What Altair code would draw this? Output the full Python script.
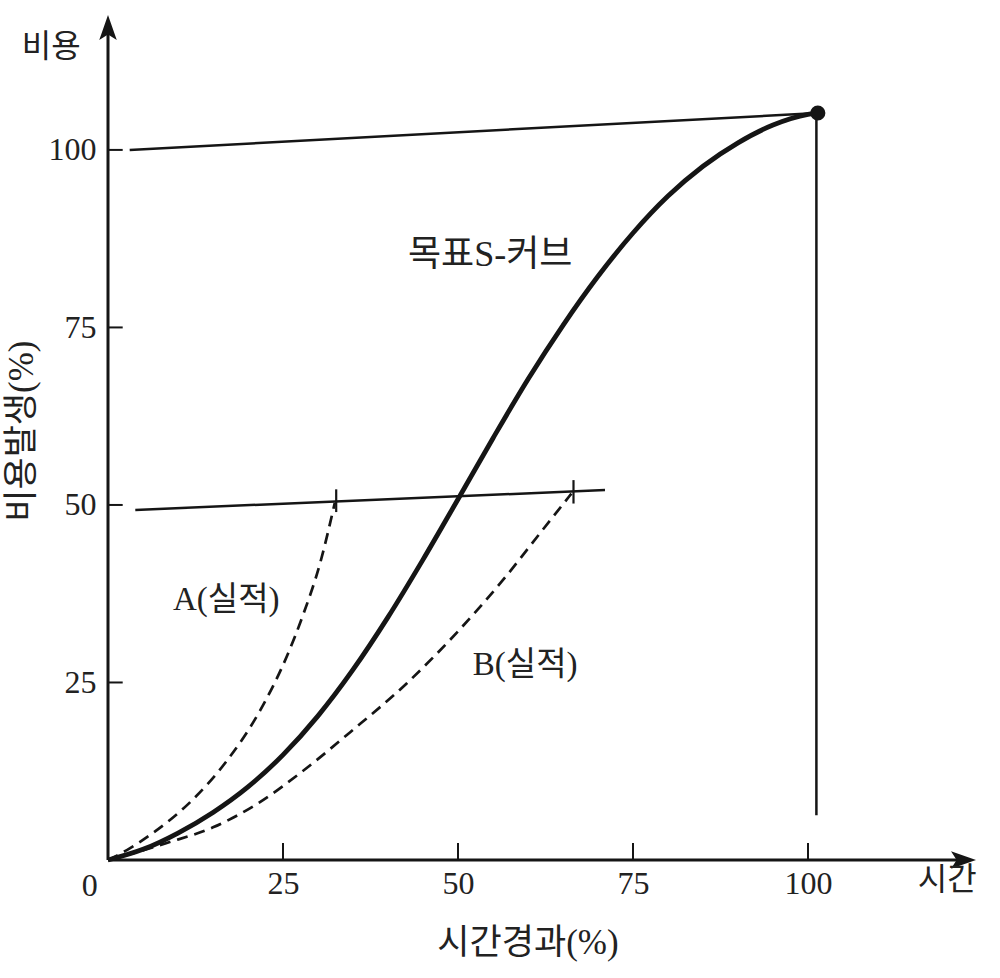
import altair as alt
import pandas as pd

# ---- data ----
# target S-curve (목표 S-커브)
s_x = [0, 5, 10, 15, 20, 25, 30, 35, 40, 45, 50, 55, 60, 65, 70, 75, 80, 85, 90, 95, 100, 101.4]
s_y = [0, 1.5, 3.8, 6.7, 10.3, 14.8, 20.3, 26.8, 34.2, 42.3, 50.8, 59.4, 67.7, 75.3, 82.2, 88.3, 93.5, 97.7, 101.0, 103.5, 105.0, 105.2]
# A (실적)
a_x = [0, 2.7, 6.4, 12.1, 17.0, 21.7, 25.6, 27.9, 30.3, 32.4]
a_y = [0, 1.4, 3.8, 8.5, 14.0, 21.0, 28.8, 34.6, 41.8, 50.3]
# B (실적)
b_x = [0, 2.7, 8.4, 15.0, 21.3, 27.4, 34.6, 42.7, 49.9, 56.4, 62.1, 66.2]
b_y = [0, 0.7, 2.4, 4.6, 7.9, 12.2, 18.0, 24.9, 32.1, 39.4, 46.5, 51.6]

# straight segments: reference lines, axes, small marker ticks
seg_x = [3.1, 3.9, 101.2, 0, 0, 32.6, 66.5]
seg_y = [100.0, 49.3, 105.2, 0, 0, 49.0, 50.2]
seg_x2 = [101.4, 71.0, 101.2, 123, 0, 32.6, 66.5]
seg_y2 = [105.2, 52.1, 6.3, 0, 117.5, 52.2, 53.5]
seg_w = [2.5, 2.5, 2.5, 3, 3, 2.2, 2.2]

tick_vals = [25, 50, 75, 100]

end_x = [101.4]
end_y = [105.2]

arrow_x = [0, 124]
arrow_y = [119, 0]
arrow_angle = [0, 90]

lab_text = ["목표S-커브", "A(실적)", "B(실적)", "비용", "시간", "시간경과(%)", "0"]
lab_x = [54.6, 16.9, 59.6, -8.1, 119.9, 60.0, -2.6]
lab_y = [85.2, 36.6, 27.5, 114.5, -2.8, -11.7, -3.6]
lab_size = [36, 33, 33, 32, 32, 35, 32]

ytitle_text = ["비용발생(%)"]
ytitle_x = [-12.3]
ytitle_y = [60.4]

# ---- tables ----
curves = pd.concat([
    pd.DataFrame({"series": "S", "x": s_x, "y": s_y, "o": range(len(s_x))}),
    pd.DataFrame({"series": "A", "x": a_x, "y": a_y, "o": range(len(a_x))}),
    pd.DataFrame({"series": "B", "x": b_x, "y": b_y, "o": range(len(b_x))}),
])
segs = pd.DataFrame({"x": seg_x, "y": seg_y, "x2": seg_x2, "y2": seg_y2, "w": seg_w})
xticks = pd.DataFrame({"x": tick_vals, "y": [0] * 4, "y2": [2.4] * 4})
yticks = pd.DataFrame({"y": tick_vals, "x": [0] * 4, "x2": [2.1] * 4})
ends = pd.DataFrame({"x": end_x, "y": end_y})
arrows = pd.DataFrame({"x": arrow_x, "y": arrow_y, "a": arrow_angle})
labels = pd.DataFrame({"t": lab_text, "x": lab_x, "y": lab_y, "s": lab_size})
ytitle = pd.DataFrame({"t": ytitle_text, "x": ytitle_x, "y": ytitle_y})

INK = "#151515"
SERIF = "Liberation Serif, Noto Sans CJK KR"

xs = alt.Scale(domain=[0, 124], nice=False, zero=False)
ys = alt.Scale(domain=[0, 119], nice=False, zero=False)
xax = alt.Axis(values=tick_vals, domain=False, ticks=False, grid=False, title=None,
               labelFont="Liberation Serif", labelFontSize=32, labelColor="#222",
               labelPadding=8, labelFlush=False)
yax = alt.Axis(values=tick_vals, domain=False, ticks=False, grid=False, title=None,
               labelFont="Liberation Serif", labelFontSize=32, labelColor="#222",
               labelPadding=12, labelFlush=False)


def X(f="x"):
    return alt.X(f + ":Q", scale=xs, axis=xax)


def Y(f="y"):
    return alt.Y(f + ":Q", scale=ys, axis=yax)


s_line = alt.Chart(curves).transform_filter(alt.datum.series == "S").mark_line(
    color=INK, strokeWidth=4.8, interpolate="monotone"
).encode(x=X(), y=Y(), order="o:Q")

dash_lines = alt.Chart(curves).transform_filter(alt.datum.series != "S").mark_line(
    color=INK, strokeWidth=2.7, strokeDash=[11, 7], interpolate="monotone"
).encode(x=X(), y=Y(), detail="series:N", order="o:Q")

seg_layer = alt.Chart(segs).mark_rule(color=INK).encode(
    x=X(), y=Y(), x2="x2:Q", y2="y2:Q",
    strokeWidth=alt.StrokeWidth("w:Q", scale=None, legend=None),
)

xtick_layer = alt.Chart(xticks).mark_rule(color=INK, strokeWidth=2).encode(
    x=X(), y=Y(), y2="y2:Q")
ytick_layer = alt.Chart(yticks).mark_rule(color=INK, strokeWidth=2).encode(
    x=X(), x2="x2:Q", y=Y())

end_layer = alt.Chart(ends).mark_point(filled=True, color=INK, size=230, opacity=1).encode(
    x=X(), y=Y())

arrow_layer = alt.Chart(arrows).mark_point(
    filled=True, color=INK, opacity=1, size=625,
    shape="M0,0 L-0.7,2 L0,1.55 L0.7,2 Z",
).encode(x=X(), y=Y(), angle=alt.Angle("a:Q", scale=None))

label_layer = alt.Chart(labels).mark_text(
    font=SERIF, color="#222", align="center", baseline="middle"
).encode(x=X(), y=Y(), text="t:N", size=alt.Size("s:Q", scale=None, legend=None))

ytitle_layer = alt.Chart(ytitle).mark_text(
    font=SERIF, color="#222", align="center", baseline="middle", angle=270, fontSize=35
).encode(x=X(), y=Y(), text="t:N")

chart = alt.layer(
    seg_layer, xtick_layer, ytick_layer, dash_lines, s_line, end_layer,
    arrow_layer, label_layer, ytitle_layer,
).properties(
    width=868, height=845,
    padding={"left": 108, "top": 15, "right": 24, "bottom": 118},
    autosize=alt.AutoSizeParams(type="none"),
    background="white",
).configure_view(stroke=None)

chart.save("out.html", embed_options={"renderer": "svg", "actions": False})
